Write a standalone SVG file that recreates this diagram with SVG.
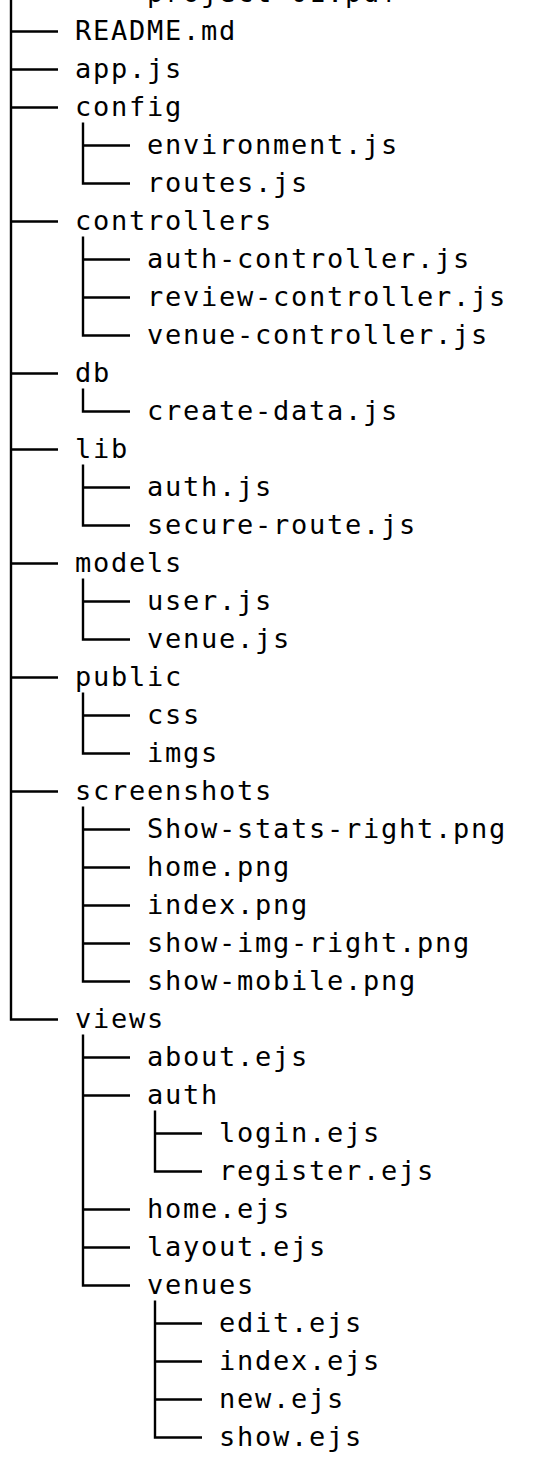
<svg xmlns="http://www.w3.org/2000/svg" width="540" height="1470" viewBox="0 0 540 1470">
<style>
text{font-family:"DejaVu Sans Mono","Liberation Mono",monospace;font-size:27px;letter-spacing:1.75px;fill:#000}
.c path{fill:none;stroke:#000;stroke-width:2.4;stroke-linejoin:miter;stroke-linecap:butt}
</style>
<rect width="540" height="1470" fill="#fff"/>
<g id="connectors" class="c">
<path d="M11 0V1019.5H58"/>
<path d="M11 31.5H58M11 69.5H58M11 107.5H58M11 221.5H58M11 373.5H58M11 449.5H58M11 563.5H58M11 677.5H58M11 791.5H58"/>
<path d="M83 122.5V183.5H130M83 145.5H130"/>
<path d="M83 236.5V335.5H130M83 259.5H130M83 297.5H130"/>
<path d="M83 388.5V411.5H130"/>
<path d="M83 464.5V525.5H130M83 487.5H130"/>
<path d="M83 578.5V639.5H130M83 601.5H130"/>
<path d="M83 692.5V753.5H130M83 715.5H130"/>
<path d="M83 806.5V981.5H130M83 829.5H130M83 867.5H130M83 905.5H130M83 943.5H130"/>
<path d="M83 1034.5V1285.5H130M83 1057.5H130M83 1095.5H130M83 1209.5H130M83 1247.5H130"/>
<path d="M155 1110.5V1171.5H202M155 1133.5H202"/>
<path d="M155 1300.5V1437.5H202M155 1323.5H202M155 1361.5H202M155 1399.5H202"/>
</g>
<g id="n-project"><text x="147" y="1.5">project-01.pdf</text></g>
<g id="n-readme"><text x="75" y="39.5">README.md</text></g>
<g id="n-app"><text x="75" y="77.5">app.js</text></g>
<g id="n-config"><text x="75" y="115.5">config</text></g>
<g id="n-environment"><text x="147" y="153.5">environment.js</text></g>
<g id="n-routes"><text x="147" y="191.5">routes.js</text></g>
<g id="n-controllers"><text x="75" y="229.5">controllers</text></g>
<g id="n-auth-controller"><text x="147" y="267.5">auth-controller.js</text></g>
<g id="n-review-controller"><text x="147" y="305.5">review-controller.js</text></g>
<g id="n-venue-controller"><text x="147" y="343.5">venue-controller.js</text></g>
<g id="n-db"><text x="75" y="381.5">db</text></g>
<g id="n-create-data"><text x="147" y="419.5">create-data.js</text></g>
<g id="n-lib"><text x="75" y="457.5">lib</text></g>
<g id="n-auth-js"><text x="147" y="495.5">auth.js</text></g>
<g id="n-secure-route"><text x="147" y="533.5">secure-route.js</text></g>
<g id="n-models"><text x="75" y="571.5">models</text></g>
<g id="n-user"><text x="147" y="609.5">user.js</text></g>
<g id="n-venue"><text x="147" y="647.5">venue.js</text></g>
<g id="n-public"><text x="75" y="685.5">public</text></g>
<g id="n-css"><text x="147" y="723.5">css</text></g>
<g id="n-imgs"><text x="147" y="761.5">imgs</text></g>
<g id="n-screenshots"><text x="75" y="799.5">screenshots</text></g>
<g id="n-show-stats"><text x="147" y="837.5">Show-stats-right.png</text></g>
<g id="n-home-png"><text x="147" y="875.5">home.png</text></g>
<g id="n-index-png"><text x="147" y="913.5">index.png</text></g>
<g id="n-show-img"><text x="147" y="951.5">show-img-right.png</text></g>
<g id="n-show-mobile"><text x="147" y="989.5">show-mobile.png</text></g>
<g id="n-views"><text x="75" y="1027.5">views</text></g>
<g id="n-about"><text x="147" y="1065.5">about.ejs</text></g>
<g id="n-auth"><text x="147" y="1103.5">auth</text></g>
<g id="n-login"><text x="219" y="1141.5">login.ejs</text></g>
<g id="n-register"><text x="219" y="1179.5">register.ejs</text></g>
<g id="n-home-ejs"><text x="147" y="1217.5">home.ejs</text></g>
<g id="n-layout"><text x="147" y="1255.5">layout.ejs</text></g>
<g id="n-venues"><text x="147" y="1293.5">venues</text></g>
<g id="n-edit"><text x="219" y="1331.5">edit.ejs</text></g>
<g id="n-index-ejs"><text x="219" y="1369.5">index.ejs</text></g>
<g id="n-new"><text x="219" y="1407.5">new.ejs</text></g>
<g id="n-show"><text x="219" y="1445.5">show.ejs</text></g>
</svg>
